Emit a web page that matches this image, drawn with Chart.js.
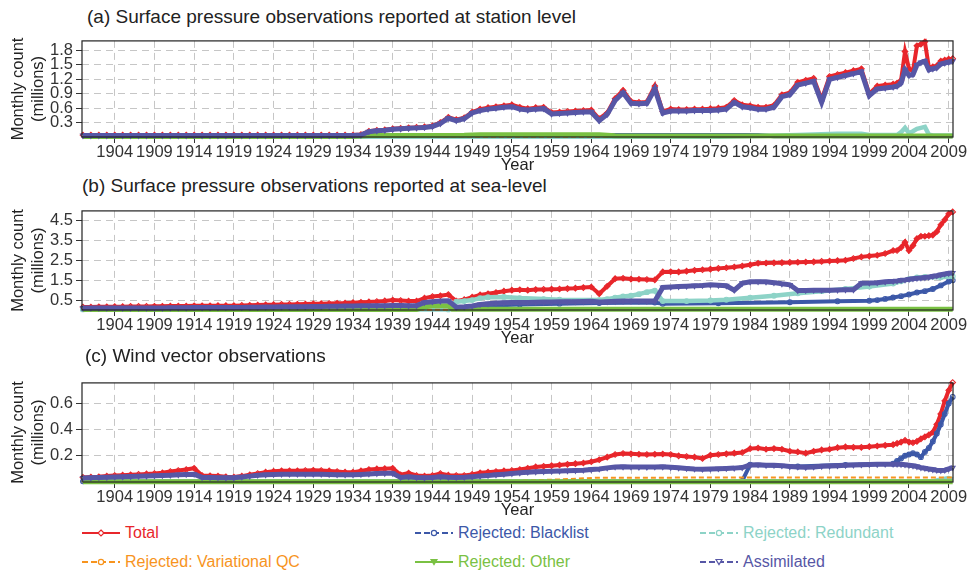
<!DOCTYPE html>
<html>
<head>
<meta charset="utf-8">
<script src="https://cdn.jsdelivr.net/npm/chart.js@4.4.1/dist/chart.umd.min.js"></script>
<style>
  body { margin: 0; background: #fff; font-family: "Liberation Sans", Arial, sans-serif; }
  #wrap { position: relative; width: 969px; height: 573px; overflow: hidden; }
  canvas { position: absolute; left: 0; }
  .title { position: absolute; font-size: 19px; line-height: 20px; color: #222; white-space: nowrap; }
  .leg { position: absolute; font-size: 16px; line-height: 18px; height: 18px; white-space: nowrap; display: flex; align-items: center; }
  .leg svg { margin-right: 5px; display: block; }
</style>
</head>
<body>
<div id="wrap">
  <div class="title" style="left:87px;top:7px">(a) Surface pressure observations reported at station level</div>
  <canvas id="chartA" width="969" height="147" style="top:28px"></canvas>
  <div class="title" style="left:82px;top:176px">(b) Surface pressure observations reported at sea-level</div>
  <canvas id="chartB" width="969" height="150" style="top:198px"></canvas>
  <div class="title" style="left:85px;top:346px">(c) Wind vector observations</div>
  <canvas id="chartC" width="969" height="150" style="top:370px"></canvas>
  <div id="legend"></div>
</div>
<script>
// x grid: yearly to 2002, then half-yearly to mid 2009
const years = [];
for (let y = 1900; y <= 2002; y++) years.push(y);
for (let y = 2002.5; y <= 2009.5; y += 0.5) years.push(y);

const xTickYears = [1904, 1909, 1914, 1919, 1924, 1929, 1934, 1939, 1944, 1949, 1954,
                    1959, 1964, 1969, 1974, 1979, 1984, 1989, 1994, 1999, 2004, 2009];
const yTicksA = [0.3, 0.6, 0.9, 1.2, 1.5, 1.8];
const yTicksB = [0.5, 1.5, 2.5, 3.5, 4.5];
const yTicksC = [0.2, 0.4, 0.6];

const seriesNames = ['Total', 'Rejected: Blacklist', 'Rejected: Redundant',
                     'Rejected: Variational QC', 'Rejected: Other', 'Assimilated'];

// (a) station level, millions per month
const aTotal = [
  0.04,0.04,0.04,0.04,0.04,0.04,0.04,0.04,0.04,0.04,
  0.04,0.04,0.04,0.04,0.04,0.04,0.04,0.04,0.04,0.04,
  0.04,0.04,0.04,0.04,0.04,0.04,0.04,0.04,0.04,0.04,
  0.04,0.04,0.04,0.04,0.04,0.05,0.12,0.14,0.15,0.17,
  0.18,0.19,0.20,0.21,0.23,0.30,0.41,0.36,0.40,0.52,
  0.58,0.61,0.63,0.65,0.67,0.62,0.59,0.61,0.62,0.51,
  0.52,0.53,0.54,0.55,0.56,0.38,0.50,0.80,0.97,0.74,
  0.72,0.73,1.06,0.53,0.58,0.57,0.57,0.58,0.58,0.59,
  0.60,0.62,0.76,0.67,0.65,0.62,0.62,0.66,0.88,0.92,
  1.14,1.18,1.22,0.78,1.26,1.30,1.34,1.38,1.42,0.90,
  1.06,1.08,1.10,
  1.12,1.18,1.78,1.42,1.38,1.90,1.93,1.98,1.45,1.46,1.48,1.58,1.60,1.62,1.63
];
const aAssim = [
  0.03,0.03,0.03,0.03,0.03,0.03,0.03,0.03,0.03,0.03,
  0.03,0.03,0.03,0.03,0.03,0.03,0.03,0.03,0.03,0.03,
  0.03,0.03,0.03,0.03,0.03,0.03,0.03,0.03,0.03,0.03,
  0.03,0.03,0.03,0.03,0.03,0.04,0.11,0.13,0.14,0.16,
  0.17,0.18,0.19,0.20,0.22,0.28,0.39,0.34,0.38,0.50,
  0.55,0.58,0.60,0.62,0.63,0.58,0.56,0.58,0.59,0.48,
  0.49,0.50,0.51,0.52,0.52,0.34,0.47,0.76,0.92,0.70,
  0.69,0.70,1.00,0.50,0.54,0.54,0.54,0.55,0.55,0.55,
  0.56,0.58,0.72,0.63,0.61,0.58,0.58,0.62,0.84,0.88,
  1.08,1.12,1.16,0.72,1.20,1.24,1.28,1.32,1.36,0.86,
  1.00,1.02,1.04,
  1.06,1.12,1.40,1.28,1.30,1.50,1.55,1.58,1.40,1.42,1.44,1.52,1.54,1.56,1.58
];
const aBlacklist = [[1900,0.01],[1964,0.01],[1966,0.04],[1985,0.04],[1987,0.015],[2009.5,0.015]];
const aRedundant = [[1900,0.005],[1980,0.005],[1985,0.02],[1990,0.04],[1995,0.07],[1998,0.07],[1999,0.04],
                    [2002.5,0.04],[2003,0.10],[2003.5,0.19],[2004,0.08],[2004.5,0.12],[2005,0.17],
                    [2005.5,0.19],[2006,0.21],[2006.5,0.05],[2007,0.03],[2009.5,0.03]];
const aVarQC = [[1900,0.003],[1999,0.003],[2000,0.02],[2006,0.02],[2006.5,0.04],[2009.5,0.04]];
const aOther = [[1900,0.01],[1934,0.01],[1936,0.03],[1948,0.035],[1950,0.045],[1965,0.045],[1967,0.025],[2009.5,0.02]];

// (b) sea level
const bTotal = [
  0.15,0.15,0.16,0.16,0.17,0.17,0.18,0.18,0.18,0.19,
  0.19,0.20,0.20,0.20,0.21,0.21,0.21,0.22,0.22,0.22,
  0.23,0.24,0.25,0.26,0.27,0.28,0.28,0.29,0.30,0.31,
  0.32,0.33,0.34,0.35,0.37,0.39,0.41,0.43,0.46,0.50,
  0.48,0.45,0.45,0.60,0.68,0.72,0.78,0.45,0.52,0.65,
  0.76,0.82,0.88,0.95,1.00,1.02,1.00,1.03,1.04,1.05,
  1.06,1.08,1.10,1.13,1.16,0.82,1.20,1.58,1.60,1.56,
  1.55,1.54,1.52,1.92,1.93,1.92,1.96,2.00,2.03,2.06,
  2.10,2.13,2.17,2.22,2.28,2.36,2.37,2.38,2.39,2.40,
  2.41,2.42,2.43,2.45,2.47,2.49,2.51,2.60,2.68,2.72,
  2.76,2.85,3.00,
  3.00,3.15,3.42,3.00,3.25,3.60,3.72,3.72,3.75,3.78,3.95,4.30,4.55,4.85,4.95
];
const bAssim = [
  0.10,0.10,0.10,0.10,0.10,0.10,0.10,0.10,0.10,0.10,
  0.10,0.11,0.11,0.11,0.12,0.12,0.12,0.12,0.13,0.13,
  0.13,0.14,0.14,0.15,0.15,0.16,0.16,0.17,0.17,0.18,
  0.18,0.19,0.19,0.20,0.20,0.21,0.21,0.22,0.22,0.23,
  0.23,0.22,0.22,0.38,0.42,0.45,0.46,0.14,0.16,0.20,
  0.28,0.32,0.35,0.37,0.38,0.38,0.38,0.39,0.40,0.40,
  0.41,0.42,0.42,0.43,0.44,0.40,0.42,0.44,0.45,0.45,
  0.45,0.45,0.45,1.14,1.16,1.18,1.20,1.22,1.24,1.27,
  1.25,1.22,1.00,1.35,1.42,1.43,1.42,1.38,1.32,1.27,
  0.98,0.99,1.00,1.00,1.00,1.01,1.02,1.02,1.35,1.36,
  1.38,1.42,1.45,
  1.47,1.50,1.52,1.55,1.58,1.60,1.62,1.64,1.66,1.70,1.73,1.78,1.82,1.85,1.87
];
const bBlacklist = [[1900,0.05],[1946,0.06],[1947,0.10],[1950,0.20],[1955,0.28],[1960,0.32],[1965,0.35],
                    [1972,0.38],[1973,0.31],[1980,0.34],[1989,0.39],[1995,0.44],[1999,0.47],[2000,0.50],
                    [2001,0.56],[2002,0.63],[2003,0.70],[2004,0.78],[2005,0.88],[2006,0.95],[2007,1.06],
                    [2008,1.24],[2009,1.44],[2009.5,1.50]];
const bRedundant = [[1900,0.03],[1946,0.03],[1947,0.42],[1948,0.45],[1949,0.50],[1950,0.60],[1951,0.64],
                    [1953,0.66],[1955,0.60],[1958,0.55],[1960,0.52],[1965,0.50],[1966,0.55],[1967,0.62],
                    [1968,0.68],[1969,0.72],[1970,0.80],[1971,0.90],[1972,0.98],[1973,0.45],[1976,0.45],
                    [1979,0.48],[1981,0.52],[1984,0.62],[1987,0.72],[1990,0.84],[1993,0.95],[1996,1.06],
                    [1999,1.18],[2002,1.34],[2003,1.45],[2004,1.55],[2005,1.64],[2006,1.67],[2008,1.65],
                    [2009.5,1.70]];
const bVarQC = [[1900,0.01],[2009.5,0.01]];
const bOther = [[1900,0.03],[1942,0.03],[1943,0.15],[1944,0.22],[1946,0.22],[1946.5,0.04],[2009.5,0.04]];

// (c) wind vectors
const cTotal = [
  0.035,0.038,0.040,0.045,0.050,0.052,0.055,0.058,0.062,0.065,
  0.070,0.080,0.088,0.095,0.105,0.050,0.047,0.045,0.040,0.038,
  0.045,0.055,0.065,0.075,0.082,0.085,0.085,0.085,0.088,0.090,
  0.088,0.085,0.080,0.075,0.075,0.085,0.095,0.100,0.102,0.105,
  0.055,0.068,0.050,0.045,0.050,0.065,0.052,0.050,0.050,0.058,
  0.070,0.075,0.080,0.085,0.088,0.095,0.105,0.115,0.120,0.125,
  0.130,0.135,0.140,0.145,0.155,0.170,0.190,0.210,0.218,0.215,
  0.212,0.210,0.212,0.214,0.210,0.200,0.195,0.190,0.180,0.205,
  0.210,0.215,0.220,0.225,0.255,0.260,0.250,0.255,0.250,0.235,
  0.230,0.220,0.235,0.245,0.250,0.262,0.268,0.265,0.265,0.270,
  0.275,0.280,0.285,
  0.295,0.305,0.318,0.305,0.300,0.310,0.330,0.345,0.360,0.380,0.440,0.520,0.620,0.700,0.760
];
const cAssim = [
  0.030,0.032,0.034,0.036,0.038,0.040,0.042,0.044,0.046,0.048,
  0.050,0.052,0.055,0.058,0.060,0.035,0.034,0.033,0.032,0.032,
  0.038,0.045,0.052,0.055,0.058,0.060,0.060,0.060,0.060,0.060,
  0.060,0.058,0.056,0.055,0.055,0.058,0.062,0.065,0.066,0.066,
  0.035,0.040,0.034,0.032,0.034,0.040,0.036,0.035,0.036,0.040,
  0.045,0.050,0.055,0.060,0.065,0.070,0.075,0.078,0.080,0.082,
  0.084,0.086,0.088,0.090,0.095,0.100,0.108,0.115,0.116,0.115,
  0.114,0.114,0.115,0.116,0.112,0.108,0.104,0.100,0.098,0.100,
  0.102,0.104,0.106,0.110,0.130,0.132,0.128,0.128,0.125,0.118,
  0.115,0.112,0.115,0.120,0.122,0.125,0.128,0.130,0.132,0.134,
  0.135,0.136,0.136,
  0.136,0.135,0.132,0.128,0.124,0.118,0.110,0.105,0.100,0.095,0.090,0.088,0.090,0.100,0.110
];
const cBlacklist = [[1900,0.005],[1983,0.008],[1984,0.132],[1990,0.118],[1996,0.131],[2002,0.14],[2002.5,0.16],
                    [2003,0.18],[2003.5,0.20],[2004,0.21],[2004.5,0.22],[2005,0.21],[2005.5,0.19],[2006,0.23],
                    [2006.5,0.26],[2007,0.31],[2007.5,0.37],[2008,0.44],[2008.5,0.52],[2009,0.60],[2009.5,0.65]];
const cRedundant = [[1900,0.005],[2007,0.005],[2008,0.02],[2009,0.03],[2009.5,0.02]];
const cVarQC = [[1900,0.003],[1950,0.003],[1955,0.01],[1960,0.02],[1965,0.033],[2009.5,0.035]];
const cOther = [[1900,0.002],[2009.5,0.002]];

const FONT = "'Liberation Sans', Arial, sans-serif";
Chart.defaults.font.family = FONT;

// one style per series, in legend order
const styles = [
  { color: '#e8262b', width: 4,   point: 'rectRot',  radius: 2.8, rot: 0,   dash: [],     fill: false, draw: 6 },
  { color: '#3c58a8', width: 4,   point: 'circle',   radius: 2.4, rot: 0,   dash: [],     fill: false, draw: 5 },
  { color: '#8dd3c7', width: 4.5, point: 'circle',   radius: 2.4, rot: 0,   dash: [],     fill: false, draw: 4 },
  { color: '#f7941e', width: 2,   point: 'circle',   radius: 2.2, rot: 0,   dash: [5, 3], fill: false, draw: 3 },
  { color: '#7ac143', width: 5,   point: 'triangle', radius: 2.2, rot: 180, dash: [],     fill: true,  draw: 2 },
  { color: '#5757a6', width: 5,   point: 'triangle', radius: 2.8, rot: 180, dash: [],     fill: false, draw: 1 }
];

function fromGrid(values) {
  return values.map((v, i) => ({ x: years[i], y: v }));
}
function fromPairs(pairs) {
  return pairs.map(p => ({ x: p[0], y: p[1] }));
}

function buildDatasets(list) {
  return list.map((s, i) => {
    const st = styles[i];
    return {
      label: seriesNames[i],
      data: s.data,
      order: st.draw,
      borderColor: st.color,
      borderWidth: st.width,
      borderDash: st.dash,
      pointStyle: st.point,
      pointRotation: st.rot,
      pointRadius: s.markers ? st.radius : 0,
      pointBorderWidth: 1.1,
      pointBorderColor: st.color,
      pointBackgroundColor: st.fill ? st.color : 'rgba(255,255,255,0)',
      tension: 0,
      clip: 6
    };
  });
}

const framePlugin = {
  id: 'frame',
  afterDatasetsDraw(chart) {
    const { ctx, chartArea: a } = chart;
    ctx.save();
    ctx.strokeStyle = '#222';
    ctx.lineWidth = 1.2;
    ctx.strokeRect(a.left, a.top, a.right - a.left, a.bottom - a.top);
    ctx.restore();
  }
};

function makeChart(id, list, padTop, yMax, yTicks) {
  return new Chart(document.getElementById(id), {
    type: 'line',
    data: { datasets: buildDatasets(list) },
    options: {
      responsive: false,
      animation: false,
      events: [],
      layout: { padding: { top: padTop, right: 16, left: 0, bottom: 0 } },
      plugins: { legend: { display: false }, tooltip: { enabled: false } },
      scales: {
        x: {
          type: 'linear',
          min: 1899.88,
          max: 2009.54,
          afterBuildTicks: s => { s.ticks = xTickYears.map(v => ({ value: v })); },
          afterFit: s => { s.height = 38; },
          ticks: { callback: v => String(v), color: '#333', font: { size: 16.5 }, padding: 0,
                   autoSkip: false, maxRotation: 0, minRotation: 0 },
          grid: { color: '#c6c6c6', lineWidth: 1, tickLength: 6, tickColor: '#333', tickWidth: 1 },
          border: { display: false, dash: [7, 5] },
          title: { display: true, text: 'Year', color: '#222', font: { size: 16.5 }, padding: { top: 0, bottom: 0 } }
        },
        y: {
          min: 0,
          max: yMax,
          afterBuildTicks: s => { s.ticks = yTicks.map(v => ({ value: v })); },
          afterFit: s => { s.width = 82; },
          ticks: { callback: v => v.toFixed(1), color: '#333', font: { size: 16.5 }, padding: 3,
                   autoSkip: false },
          grid: { color: '#c6c6c6', lineWidth: 1, tickLength: 6, tickColor: '#333', tickWidth: 1 },
          border: { display: false, dash: [7, 5] },
          title: { display: true, text: ['Monthly count', '(millions)'], color: '#222',
                   font: { size: 16.5 }, padding: { top: 9, bottom: 0 } }
        }
      }
    },
    plugins: [framePlugin]
  });
}

makeChart('chartA', [
  { data: fromGrid(aTotal), markers: true },
  { data: fromPairs(aBlacklist), markers: false },
  { data: fromPairs(aRedundant), markers: false },
  { data: fromPairs(aVarQC), markers: false },
  { data: fromPairs(aOther), markers: false },
  { data: fromGrid(aAssim), markers: true }
], 4, 2.0, yTicksA);

makeChart('chartB', [
  { data: fromGrid(bTotal), markers: true },
  { data: fromPairs(bBlacklist), markers: true },
  { data: fromPairs(bRedundant), markers: true },
  { data: fromPairs(bVarQC), markers: false },
  { data: fromPairs(bOther), markers: false },
  { data: fromGrid(bAssim), markers: true }
], 7, 5.0, yTicksB);

makeChart('chartC', [
  { data: fromGrid(cTotal), markers: true },
  { data: fromPairs(cBlacklist), markers: true },
  { data: fromPairs(cRedundant), markers: false },
  { data: fromPairs(cVarQC), markers: false },
  { data: fromPairs(cOther), markers: false },
  { data: fromGrid(cAssim), markers: true }
], 8, 0.757, yTicksC);

// legend: 3 columns x 2 rows below the panels
const legendSpots = [[82, 524], [415, 524], [700, 524], [82, 553], [415, 553], [700, 553]];
const legendDashed = [false, true, true, true, false, true];
const legend = document.getElementById('legend');
seriesNames.forEach((name, i) => {
  const st = styles[i];
  let marker;
  if (st.point === 'rectRot') {
    marker = `<path d="M19 6 L22 9 L19 12 L16 9 Z" fill="#fff" stroke="${st.color}" stroke-width="1.2"/>`;
  } else if (st.point === 'circle') {
    marker = `<circle cx="19" cy="9" r="2.6" fill="#fff" stroke="${st.color}" stroke-width="1.2"/>`;
  } else {
    marker = `<path d="M16 6.5 L22 6.5 L19 11.5 Z" fill="${st.fill ? st.color : '#fff'}" stroke="${st.color}" stroke-width="1.2"/>`;
  }
  const dash = legendDashed[i] ? 'stroke-dasharray="6 3"' : '';
  const el = document.createElement('div');
  el.className = 'leg';
  el.style.left = legendSpots[i][0] + 'px';
  el.style.top = legendSpots[i][1] + 'px';
  el.style.color = st.color;
  el.innerHTML = `<svg width="38" height="18"><line x1="0" y1="9" x2="38" y2="9" stroke="${st.color}" stroke-width="2" ${dash}/>${marker}</svg><span>${name}</span>`;
  legend.appendChild(el);
});
</script>
</body>
</html>
